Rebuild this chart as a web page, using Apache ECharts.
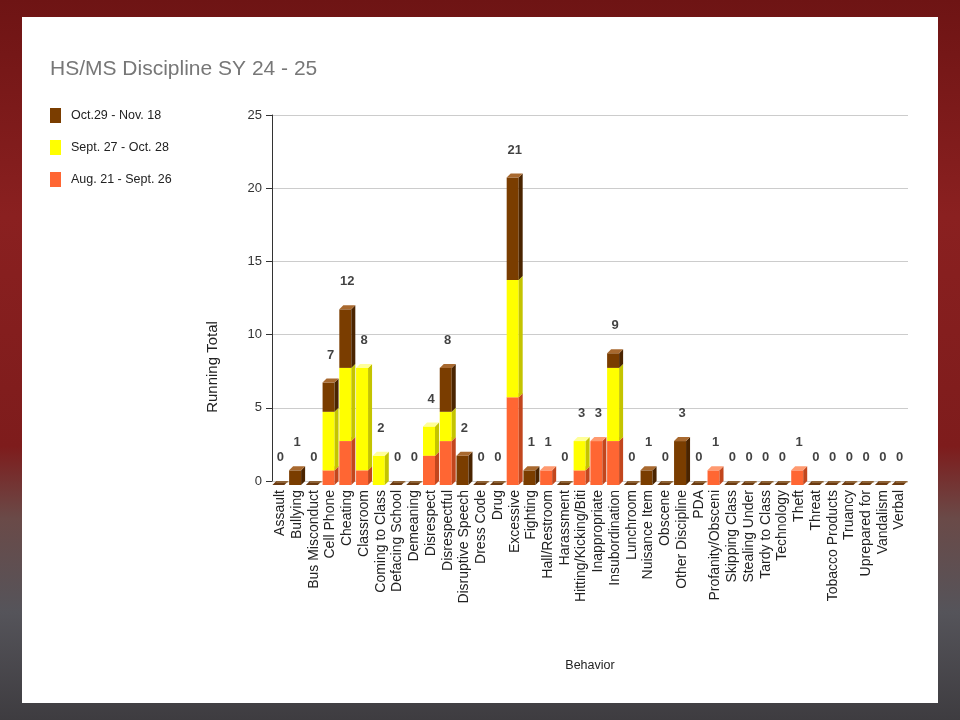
<!DOCTYPE html>
<html>
<head>
<meta charset="utf-8">
<script src="https://cdn.jsdelivr.net/npm/echarts@6/dist/echarts.min.js"></script>
<style>
html,body{margin:0;padding:0;}
body{width:960px;height:720px;overflow:hidden;position:relative;
background:linear-gradient(180deg,#6e1414 0%,#8a2020 30%,#7e1c1c 62%,#6a4a48 72%,#55545a 85%,#3e3c40 100%);}
#card{position:absolute;left:22px;top:17px;width:916px;height:686px;background:#ffffff;}
#chart{position:absolute;left:0;top:0;width:960px;height:720px;}
</style>
</head>
<body>
<div id="card"></div>
<div id="chart"></div>
<script>
const categories = ["Assault","Bullying","Bus Misconduct","Cell Phone","Cheating","Classroom","Coming to Class","Defacing School","Demeaning","Disrespect","Disrespectful","Disruptive Speech","Dress Code","Drug","Excessive","Fighting","Hall/Restroom","Harassment","Hitting/Kicking/Biti","Inappropriate","Insubordination","Lunchroom","Nuisance Item","Obscene","Other Discipline","PDA","Profanity/Obsceni","Skipping Class","Stealing Under","Tardy to Class","Technology","Theft","Threat","Tobacco Products","Truancy","Uprepared for","Vandalism","Verbal"];
const augSept = [0,0,0,1,3,1,0,0,0,2,3,0,0,0,6,0,1,0,1,3,3,0,0,0,0,0,1,0,0,0,0,1,0,0,0,0,0,0];
const septOct = [0,0,0,4,5,7,2,0,0,2,2,0,0,0,8,0,0,0,2,0,5,0,0,0,0,0,0,0,0,0,0,0,0,0,0,0,0,0];
const octNov  = [0,1,0,2,4,0,0,0,0,0,3,2,0,0,7,1,0,0,0,0,1,0,1,0,3,0,0,0,0,0,0,0,0,0,0,0,0,0];
const seriesNames = ["Aug. 21 - Sept. 26","Sept. 27 - Oct. 28","Oct.29 - Nov. 18"];
const yTicks = [0,5,10,15,20,25];

const palette = [
  {front:'#ff6633', side:'#c2461d', top:'#ff9a70'},
  {front:'#ffff00', side:'#c4c400', top:'#ffff99'},
  {front:'#7a3d00', side:'#4a2400', top:'#a8692f'}
];
const layers = [augSept, septOct, octNov];
const totals = categories.map((c,i)=>augSept[i]+septOct[i]+octNov[i]);

function buildData(k){
  const out=[];
  categories.forEach((c,i)=>{
    let s=0; for(let j=0;j<k;j++) s+=layers[j][i];
    const v=layers[k][i];
    if(v>0) out.push([i,s,s+v]);
    else if(k===2 && totals[i]===0) out.push([i,0,0]);
  });
  return out;
}

function makeRender(col){
  return function(params, api){
    const idx=api.value(0), s=api.value(1), e=api.value(2);
    const base=api.coord([idx,s]);
    const top=api.coord([idx,e]);
    const bw=12, dx=4, dy=4;
    const x0=base[0]-bw/2-dx/2;
    const children=[];
    if(e>s){
      children.push({type:'rect',shape:{x:x0,y:top[1]+dy,width:bw,height:base[1]-top[1]},style:{fill:col.front}});
      children.push({type:'polygon',shape:{points:[[x0+bw,top[1]+dy],[x0+bw+dx,top[1]],[x0+bw+dx,base[1]],[x0+bw,base[1]+dy]]},style:{fill:col.side}});
      children.push({type:'polygon',shape:{points:[[x0,top[1]+dy],[x0+dx,top[1]],[x0+bw+dx,top[1]],[x0+bw,top[1]+dy]]},style:{fill:col.top}});
    } else {
      children.push({type:'polygon',shape:{points:[[x0,base[1]+dy],[x0+dx,base[1]],[x0+bw+dx,base[1]],[x0+bw,base[1]+dy]]},style:{fill:'#6b3a10'}});
      children.push({type:'line',shape:{x1:x0+dx,y1:base[1]+1,x2:x0+bw+dx,y2:base[1]+1},style:{stroke:'#b08a5a',lineWidth:1}});
    }
    return {type:'group',children:children};
  };
}

const series = [0,1,2].map(k=>({
  name: seriesNames[k],
  type:'custom',
  renderItem: makeRender(palette[k]),
  itemStyle:{color:palette[k].front},
  encode:{x:0,y:[1,2]},
  data: buildData(k),
  z: 2+k
}));
series.push({
  name:'total',
  type:'scatter',
  data: totals,
  symbolSize:0,
  silent:true,
  label:{show:true,position:'top',distance:17,formatter:p=>String(p.value),
    fontFamily:'Liberation Sans',fontWeight:'bold',fontSize:13,color:'#111'},
  z:10
});

const chart = echarts.init(document.getElementById('chart'),null,{renderer:'canvas'});
chart.setOption({
  animation:false,
  backgroundColor:'transparent',
  title:{text:'HS/MS Discipline SY 24 - 25',left:50,top:59,padding:0,
    textStyle:{fontFamily:'Liberation Sans',fontWeight:'normal',fontSize:21,color:'#777777'}},
  legend:{
    orient:'vertical',left:50,top:108,padding:0,itemWidth:11,itemHeight:15,itemGap:17,
    icon:'rect',
    data:[
      {name:seriesNames[2],itemStyle:{color:palette[2].front}},
      {name:seriesNames[1],itemStyle:{color:palette[1].front}},
      {name:seriesNames[0],itemStyle:{color:palette[0].front}}
    ],
    textStyle:{fontFamily:'Liberation Sans',fontSize:12.5,color:'#222',padding:[0,0,0,5]}
  },
  grid:{left:272,right:52,top:115,bottom:239,containLabel:false},
  xAxis:{
    type:'category',data:categories,
    name:'Behavior',nameLocation:'middle',nameGap:178,
    nameTextStyle:{fontFamily:'Liberation Sans',fontSize:12.5,color:'#222'},
    axisLine:{show:false},axisTick:{show:false},
    axisLabel:{rotate:90,interval:0,margin:9,fontFamily:'Liberation Sans',fontSize:14,color:'#222'}
  },
  yAxis:{
    type:'value',min:0,max:25,interval:5,
    axisLine:{show:true,lineStyle:{color:'#333',width:1}},
    axisTick:{show:true,length:6,lineStyle:{color:'#333'}},
    axisLabel:{margin:10,fontFamily:'Liberation Sans',fontSize:13,color:'#333',
      formatter:v=>yTicks.indexOf(v)>=0?String(v):''},
    splitLine:{show:true,lineStyle:{color:'#cccccc',width:1}}
  },
  graphic:[{
    type:'text',x:213,y:367,rotation:Math.PI/2,
    style:{text:'Running Total',fontFamily:'Liberation Sans',fontSize:15,fill:'#222',
      textAlign:'center',textVerticalAlign:'middle'}
  }],
  series:series
});
</script>
</body>
</html>
